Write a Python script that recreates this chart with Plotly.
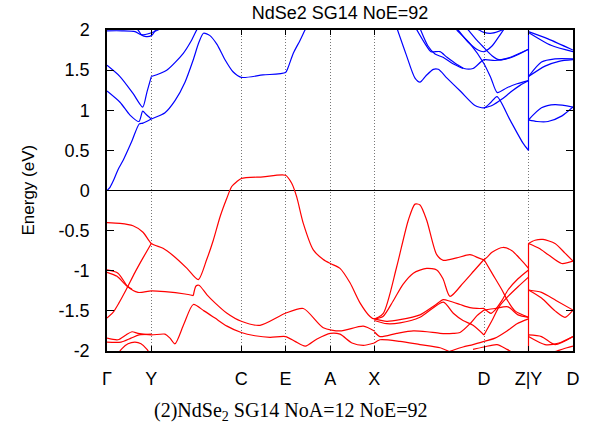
import plotly.graph_objects as go

# High-symmetry points along the k-path (cumulative path length)
kpt_pos = [0, 44.3, 134.3, 178.5, 223.3, 267.3, 377.0, 421.5, 466.0]
kpt_lbl = ["Γ", "Y", "C", "E", "A", "X", "D", "Z|Y", "D"]

e_ticks = [-2, -1.5, -1, -0.5, 0, 0.5, 1, 1.5, 2]
e_tick_txt = ["-2", "-1.5", "-1", "-0.5", "0", "0.5", "1", "1.5", "2"]

# Conduction bands (k, E in eV)
cb_gamma_low = ([0, 3, 6.3, 11, 16.3, 24.7, 32.3, 36, 44.3, 58, 68, 78, 86, 92, 96.5, 103, 110, 118, 126, 134.3, 156, 178.5, 181, 186.3, 193, 198, 203],
                [0.0, 0.04, 0.12, 0.26, 0.38, 0.61, 0.83, 0.84, 0.89, 0.97, 1.12, 1.35, 1.62, 1.85, 1.96, 1.93, 1.82, 1.63, 1.48, 1.41, 1.44, 1.47, 1.53, 1.71, 1.87, 2.0, 2.12])
cb_y_up = ([44.3, 59.7, 76.3, 84, 89.7, 94], [1.42, 1.50, 1.71, 1.86, 2.0, 2.08])
cb_gamma_v = ([0, 13, 26, 35.7, 40, 44.3], [1.56, 1.42, 1.21, 1.04, 1.23, 1.42])
cb_gamma_w = ([0, 13, 23, 32, 35.7, 39, 44.3], [1.24, 1.10, 0.94, 0.86, 0.99, 0.95, 0.89])
cb_gamma_top = ([0, 15, 28, 34.5, 43, 51, 56], [1.99, 1.99, 1.98, 1.94, 1.96, 2.0, 2.04])
cb_gamma_top2 = ([26, 31, 34.5, 38, 44.3, 50], [2.05, 2.0, 1.94, 1.92, 1.93, 2.03])
cb_x1 = ([290, 299, 308, 313, 319, 326.3, 331.3, 340, 354, 368, 377, 384, 390, 403, 416, 421.5],
         [2.02, 1.70, 1.40, 1.35, 1.43, 1.51, 1.51, 1.40, 1.23, 1.06, 1.03, 1.10, 1.17, 0.88, 0.59, 0.50])
cb_x2 = ([309, 318, 324, 333, 340, 350, 357, 366, 377, 388, 401, 421.5],
         [2.02, 1.83, 1.73, 1.73, 1.66, 1.57, 1.52, 1.52, 1.63, 1.62, 1.65, 1.76])
cb_x3 = ([313, 321, 328, 336, 346, 356], [2.02, 1.80, 1.70, 1.66, 1.58, 1.52])
cb_d_steep = ([349.7, 363, 377, 384, 390.3, 400, 410, 421.5], [2.0, 1.83, 1.58, 1.40, 1.22, 1.28, 1.33, 1.37])
cb_d_rise = ([377, 385, 395, 405, 413, 421.5], [1.03, 1.06, 1.14, 1.24, 1.31, 1.37])
cb_d_a = ([350, 361, 371, 377, 385, 392, 398], [2.02, 1.85, 1.75, 1.73, 1.80, 1.92, 2.03])
cb_d_b = ([360, 370, 377, 385, 392, 405, 421.5], [2.02, 1.87, 1.78, 1.68, 1.63, 1.66, 1.76])
cb_d_top = ([362, 372, 377, 385, 395, 402], [2.05, 2.0, 1.97, 1.96, 2.0, 2.05])
cb_yd_1a = ([421.5, 441, 466], [1.98, 1.89, 1.75])
cb_yd_1b = ([421.5, 444, 466], [1.97, 1.81, 1.73])
cb_yd_2a = ([421.5, 434.5, 448, 466], [1.42, 1.60, 1.64, 1.64])
cb_yd_2b = ([421.5, 438, 452, 466], [1.42, 1.55, 1.61, 1.63])
cb_yd_3a = ([421.5, 434.5, 448, 466], [0.88, 1.03, 1.07, 1.04])
cb_yd_3b = ([421.5, 430, 441, 455, 466], [0.88, 0.86, 0.86, 0.93, 1.04])

conduction = [cb_gamma_low, cb_y_up, cb_gamma_v, cb_gamma_w, cb_gamma_top, cb_gamma_top2,
              cb_x1, cb_x2, cb_x3, cb_d_steep, cb_d_rise, cb_d_a, cb_d_b, cb_d_top,
              cb_yd_1a, cb_yd_1b, cb_yd_2a, cb_yd_2b, cb_yd_3a, cb_yd_3b]

# Valence bands (k, E in eV)
vb_top = ([0, 13, 26, 36, 44.3, 56, 66, 80, 91.3, 99.7, 106.3, 113, 119.7, 124.7, 129.7, 134.3, 156, 178.5,
           184.7, 189.7, 196.3, 206.3, 216.3, 223.3, 233, 243, 253, 263, 267.3, 276.3, 289.7, 301.3, 308, 313,
           319.7, 329.7, 336.3, 349.7, 363, 377, 385, 396, 405, 413, 421.5],
          [-0.40, -0.41, -0.44, -0.52, -0.66, -0.72, -0.81, -0.97, -1.11, -0.86, -0.62, -0.33, -0.10, 0.05, 0.11, 0.15, 0.17, 0.19,
           0.09, -0.08, -0.41, -0.74, -0.86, -0.91, -0.97, -1.15, -1.40, -1.57, -1.60, -1.53, -0.95, -0.37, -0.17, -0.18,
           -0.37, -0.80, -0.87, -0.84, -0.80, -0.86, -0.77, -0.71, -0.75, -0.85, -0.97])
vb_gy_rise = ([0, 6, 12, 19, 28, 36, 44.3], [-1.59, -1.52, -1.40, -1.24, -1.02, -0.84, -0.66])
vb_second_a = ([0, 11, 21, 31, 44.3, 58, 78, 86.3], [-0.99, -1.03, -1.20, -1.27, -1.25, -1.26, -1.29, -1.31])
vb_second_b = ([86.3, 89, 92, 100, 108, 120, 134.3, 153, 178.5, 196.3, 216.3, 233, 256.3, 267.3],
               [-1.31, -1.19, -1.18, -1.30, -1.40, -1.53, -1.63, -1.68, -1.53, -1.47, -1.71, -1.75, -1.69, -1.75])
vb_second_c = ([0, 10, 19, 25], [-1.02, -1.07, -1.18, -1.23])
vb_low = ([0, 11, 19, 25, 31, 44.3, 58, 63, 68, 77, 86.3, 97, 108, 120, 134.3, 148, 163, 178.5, 188, 198.3,
           210, 223.3, 233, 245, 256.3, 267.3],
          [-1.84, -1.86, -1.80, -1.76, -1.78, -1.80, -1.79, -1.84, -1.91, -1.66, -1.42, -1.50, -1.59, -1.69, -1.77, -1.81,
           -1.83, -1.82, -1.88, -1.94, -1.85, -1.78, -1.79, -1.90, -1.93, -1.90])
vb_gy_low1 = ([0, 14, 24, 32, 44.3], [-1.89, -1.89, -1.84, -1.80, -1.79])
vb_gy_low2 = ([10, 15, 21, 28, 34, 40, 44], [-2.05, -1.97, -1.91, -1.89, -1.91, -1.98, -2.06])
vb_hump = ([267.3, 276, 286, 296, 306.3, 319.7, 329.7, 336, 343, 356.3, 367, 377],
           [-1.60, -1.57, -1.38, -1.17, -1.03, -0.97, -0.99, -1.10, -1.32, -1.15, -1.00, -0.86])
vb_xd_1 = ([267.3, 279.7, 293, 313, 328, 336.3, 343, 353, 363, 370, 377],
           [-1.60, -1.63, -1.61, -1.55, -1.43, -1.36, -1.38, -1.42, -1.46, -1.47, -1.47])
vb_xd_2 = ([267.3, 279.7, 293, 313, 336.3, 346.3, 356, 366, 377],
           [-1.62, -1.66, -1.65, -1.58, -1.39, -1.53, -1.62, -1.68, -1.80])
vb_xd_3 = ([267.3, 273, 289.7, 306.3, 320, 333, 346, 353, 363, 370, 377],
           [-1.76, -1.82, -1.78, -1.75, -1.76, -1.78, -1.78, -1.77, -1.66, -1.56, -1.49])
vb_xd_4 = ([267.3, 273, 293, 313, 333, 343, 350], [-1.90, -1.86, -1.88, -1.92, -1.96, -2.01, -2.05])
vb_xd_5 = ([335, 346, 356, 366, 377], [-2.04, -1.99, -1.95, -1.92, -1.88])
vb_dz_a = ([377, 384, 388, 395, 401, 411, 421.5], [-1.47, -1.53, -1.49, -1.37, -1.24, -1.10, -0.99])
vb_dz_b = ([377, 385, 395, 401, 408, 421.5], [-0.86, -1.03, -1.24, -1.38, -1.50, -1.58])
vb_dz_c = ([377, 385, 392, 401, 411, 421.5], [-1.80, -1.62, -1.45, -1.32, -1.20, -1.08])
vb_dz_d = ([377, 388, 401, 411, 421.5], [-1.49, -1.47, -1.45, -1.55, -1.58])
vb_dz_e = ([377, 388, 400, 410, 421.5], [-1.88, -1.84, -1.75, -1.66, -1.60])
vb_dz_f = ([366, 377, 390, 400, 410], [-1.98, -1.95, -1.92, -1.98, -2.05])
vb_yd_1a = ([421.5, 428, 436, 448, 458, 466], [-0.66, -0.62, -0.61, -0.66, -0.78, -0.88])
vb_yd_1b = ([421.5, 432, 441.3, 454.7, 466], [-0.66, -0.72, -0.80, -0.91, -0.88])
vb_yd_2a = ([421.5, 434.5, 449, 466], [-1.24, -1.27, -1.37, -1.49])
vb_yd_2b = ([421.5, 434.5, 448, 458, 466], [-1.24, -1.34, -1.50, -1.58, -1.49])
vb_yd_3a = ([421.5, 434.5, 448, 466], [-1.80, -1.82, -1.92, -1.82])
vb_yd_3b = ([421.5, 438, 452, 466], [-1.82, -1.92, -1.90, -1.82])
vb_yd_4 = ([440, 450, 460, 466], [-2.04, -2.0, -1.96, -1.94])

valence = [vb_top, vb_gy_rise, vb_second_a, vb_second_b, vb_second_c, vb_low, vb_gy_low1, vb_gy_low2,
           vb_hump, vb_xd_1, vb_xd_2, vb_xd_3, vb_xd_4, vb_xd_5,
           vb_dz_a, vb_dz_b, vb_dz_c, vb_dz_d, vb_dz_e, vb_dz_f,
           vb_yd_1a, vb_yd_1b, vb_yd_2a, vb_yd_2b, vb_yd_3a, vb_yd_3b, vb_yd_4]

# Band connections across the Z|Y discontinuity
cb_jump = [0.50, 2.05]
vb_jump = [-0.66, -2.05]

BLUE = "#0000ff"
RED = "#ff0000"

fig = go.Figure()

def add_band(k, e, color):
    fig.add_trace(go.Scatter(x=k, y=e, mode="lines", hoverinfo="skip",
                             line=dict(color=color, width=1.2, shape="spline", smoothing=0.7)))

for k, e in conduction:
    add_band(k, e, BLUE)
for k, e in valence:
    add_band(k, e, RED)

zy = kpt_pos[7]
fig.add_trace(go.Scatter(x=[zy, zy], y=cb_jump, mode="lines", line=dict(color=BLUE, width=1.2), hoverinfo="skip"))
fig.add_trace(go.Scatter(x=[zy, zy], y=vb_jump, mode="lines", line=dict(color=RED, width=1.2), hoverinfo="skip"))

FONT = "Liberation Sans, Arial, sans-serif"

fig.update_layout(
    width=593, height=438,
    margin=dict(l=107, r=20, t=30, b=87),
    paper_bgcolor="white", plot_bgcolor="white",
    showlegend=False,
    font=dict(family=FONT, size=16, color="black"),
    title=dict(text="NdSe2 SG14 NoE=92", x=0.5, xref="paper", xanchor="center",
               y=1 - 13 / 438, yref="container", yanchor="middle",
               font=dict(family=FONT, size=18, color="black")),
)

fig.update_xaxes(
    range=[0, kpt_pos[-1]], tickmode="array", tickvals=kpt_pos, ticktext=kpt_lbl,
    showgrid=True, gridcolor="#777777", griddash="1px,2px", gridwidth=1,
    showline=True, linecolor="black", linewidth=1.5, mirror="ticks",
    ticks="inside", ticklen=5, tickcolor="black",
    ticklabelstandoff=11, tickfont=dict(family=FONT, size=18),
    zeroline=False,
)
fig.update_yaxes(
    range=[-2, 2], tickmode="array", tickvals=e_ticks, ticktext=e_tick_txt,
    showgrid=False,
    showline=True, linecolor="black", linewidth=1.5, mirror="ticks",
    ticks="inside", ticklen=7, tickcolor="black",
    ticklabelstandoff=12, tickfont=dict(family=FONT, size=18),
    zeroline=True, zerolinecolor="black", zerolinewidth=1,
)

fig.add_annotation(text="Energy (eV)", xref="paper", yref="paper",
                   x=(28 - 107) / 466, y=0.5, textangle=-90, showarrow=False,
                   font=dict(family=FONT, size=17), xanchor="center", yanchor="middle")

fig.add_annotation(text="(2)NdSe<sub>2</sub> SG14 NoA=12 NoE=92", xref="paper", yref="paper",
                   x=(290 - 107) / 466, y=(351 - 411) / 321, showarrow=False,
                   font=dict(family="Liberation Serif, Times New Roman, serif", size=20),
                   xanchor="center", yanchor="middle")

fig.write_html("out.html")
